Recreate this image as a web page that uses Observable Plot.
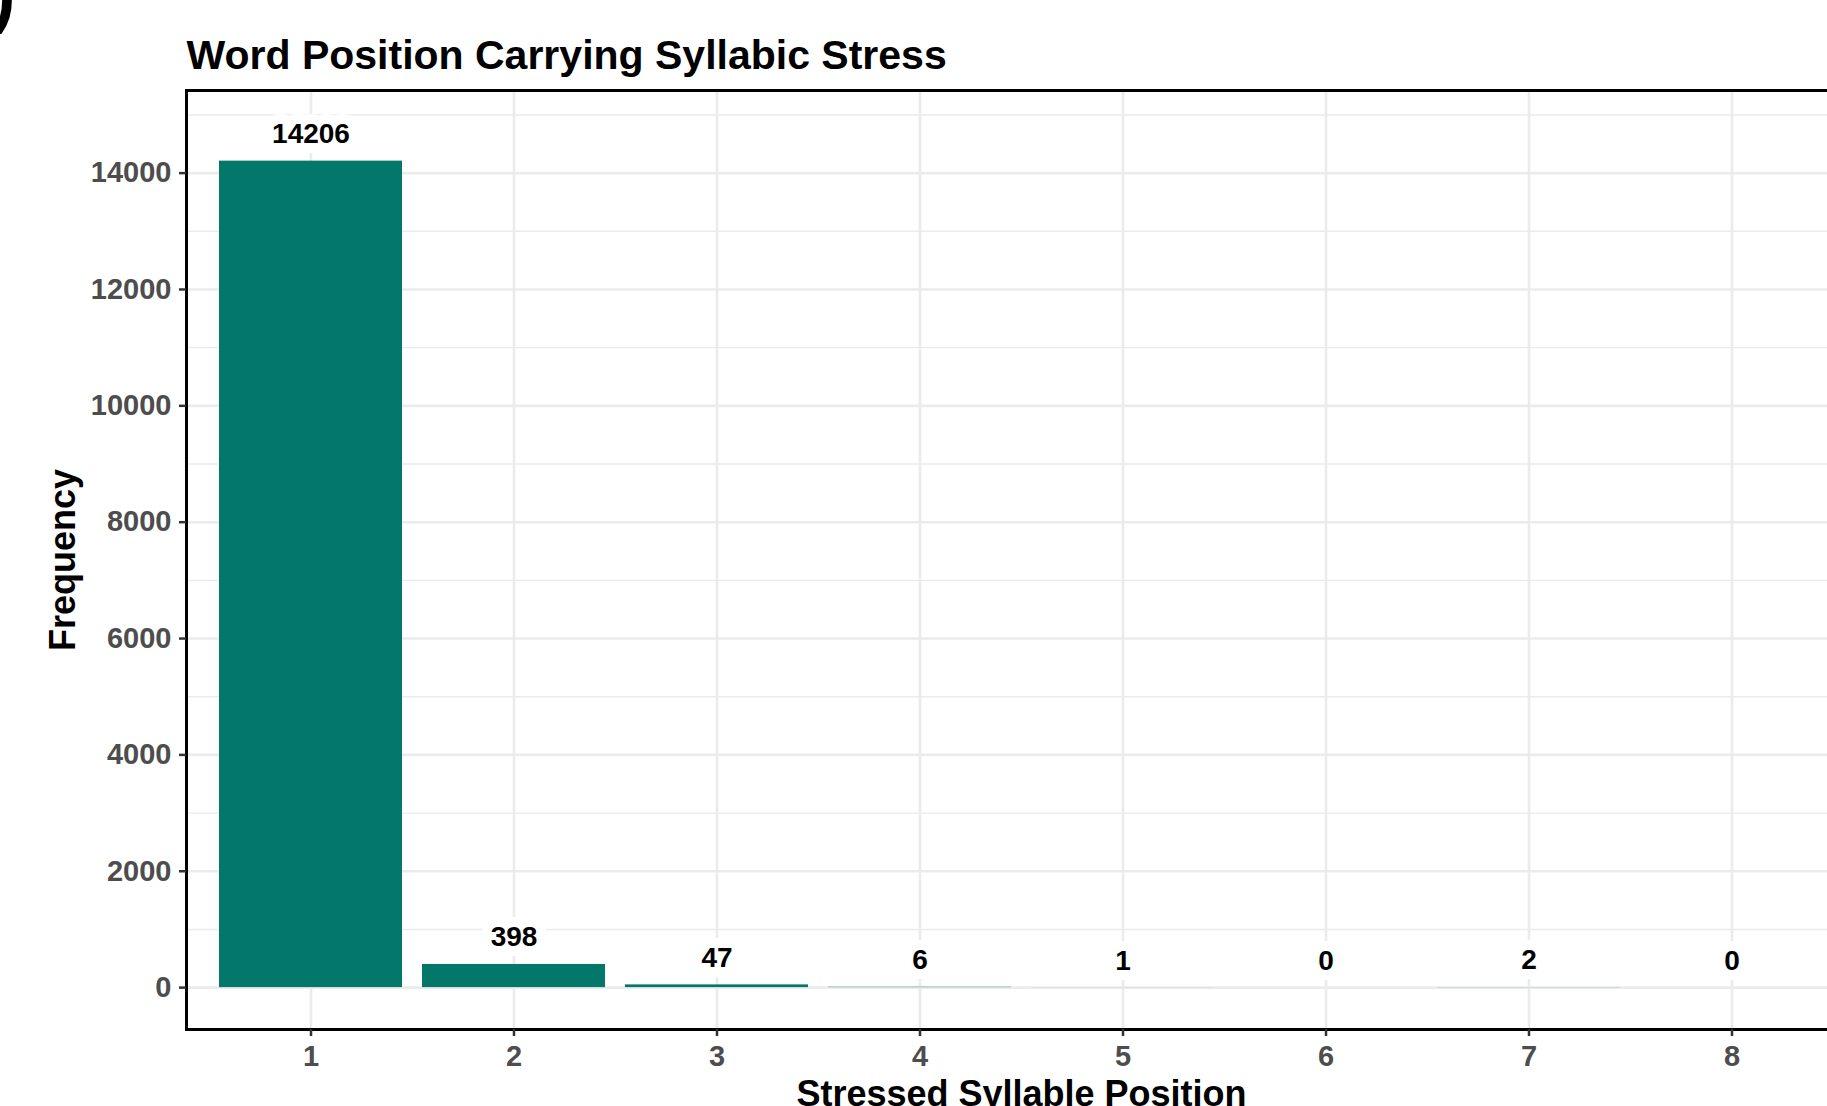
<!DOCTYPE html>
<html><head><meta charset="utf-8">
<script src="https://cdn.jsdelivr.net/npm/d3@7"></script>
<script src="https://cdn.jsdelivr.net/npm/@observablehq/plot@0.6"></script>
<style>
html,body{margin:0;padding:0;background:#fff;overflow:hidden;}
#chart{width:1827px;height:1106px;overflow:hidden;position:relative;}
#chart svg{max-width:none !important;}
</style></head><body><div id="chart"></div>
<script>
const positions = ["1","2","3","4","5","6","7","8"];
const frequencies = [14206, 398, 47, 6, 1, 0, 2, 0];
const majorYTicks = [0, 2000, 4000, 6000, 8000, 10000, 12000, 14000];
const minorYTicks = [1000, 3000, 5000, 7000, 9000, 11000, 13000, 15000];
const titleText = "Word Position Carrying Syllabic Stress";
const xLabel = "Stressed Syllable Position";
const yLabel = "Frequency";
const panelTag = ")";

const data = positions.map((p, i) => ({position: p, frequency: frequencies[i]}));
const font = "'Liberation Sans', Arial, Helvetica, sans-serif";

const chart = Plot.plot({
  width: 1900, height: 1106,
  marginLeft: 186, marginRight: 44, marginTop: 90, marginBottom: 77,
  style: {fontFamily: font, background: "#fff", overflow: "visible", maxWidth: "none"},
  x: {type: "band", domain: positions, paddingInner: 0.1, paddingOuter: 0.15},
  y: {domain: [-720, 15420]},
  marks: [
    Plot.gridY(minorYTicks, {stroke: "#ebebeb", strokeOpacity: 1, strokeWidth: 1.4}),
    Plot.gridY(majorYTicks, {stroke: "#ebebeb", strokeOpacity: 1, strokeWidth: 2.6}),
    Plot.gridX({stroke: "#ebebeb", strokeOpacity: 1, strokeWidth: 2.6}),
    Plot.barY(data, {x: "position", y: "frequency", fill: "#03786a"}),
    Plot.text(data, {x: "position", y: "frequency", text: d => String(d.frequency), lineAnchor: "bottom", dy: -18, fontSize: 28, fontWeight: "bold", fill: "#000", stroke: "#fff", strokeWidth: 20, strokeLinejoin: "round"}),
    Plot.frame({stroke: "#000", strokeWidth: 3}),
    Plot.axisX({tickSize: 7, tickPadding: 9, fontSize: 29, fontWeight: "bold", fill: "#4d4d4d", stroke: "#333", strokeWidth: 2.5, label: null}),
    Plot.axisY(majorYTicks, {tickSize: 7, tickPadding: 8, fontSize: 29, fontWeight: "bold", fill: "#4d4d4d", stroke: "#333", strokeWidth: 2.5, label: null, tickFormat: d => String(d)}),
    Plot.text([titleText], {text: d => d, frameAnchor: "top-left", textAnchor: "start", lineAnchor: "bottom", dy: -22, fontSize: 41, fontWeight: "bold", fill: "#000"}),
    Plot.text([yLabel], {text: d => d, frameAnchor: "left", textAnchor: "middle", rotate: -90, lineAnchor: "bottom", dx: -112, fontSize: 36, fontWeight: "bold", fill: "#000"}),
    Plot.text([xLabel], {text: d => d, frameAnchor: "bottom", textAnchor: "middle", lineAnchor: "bottom", dy: 76, fontSize: 36, fontWeight: "bold", fill: "#000"}),
    Plot.text([panelTag], {text: d => d, frameAnchor: "top-left", textAnchor: "start", lineAnchor: "bottom", dx: -195, dy: -72, fontSize: 72, fontWeight: "bold", fill: "#000"})
  ]
});
document.getElementById("chart").appendChild(chart);
</script></body></html>
